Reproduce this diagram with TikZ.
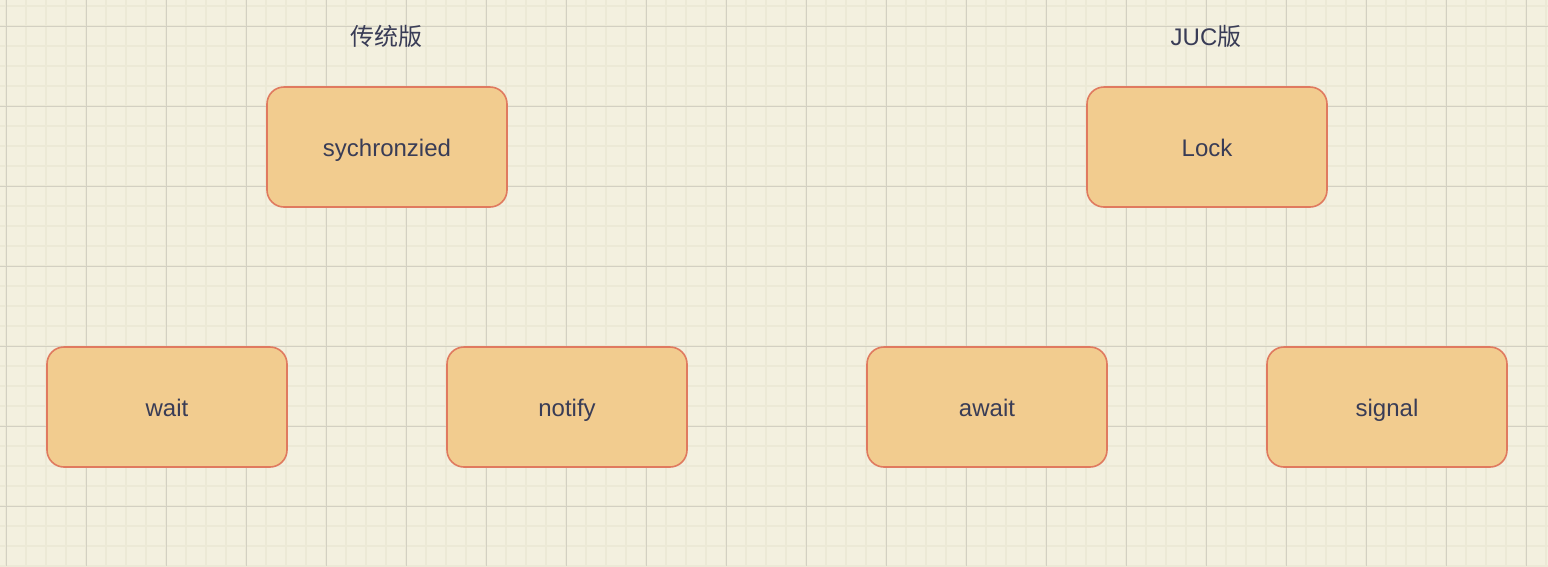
\documentclass[tikz,border=0pt]{standalone}
\usepackage{fontspec}
\setmainfont{Liberation Sans}
\newfontfamily\cjk{Noto Sans CJK SC}
\definecolor{bgc}{HTML}{F3F0DF}
\definecolor{minorc}{HTML}{ECE9D6}
\definecolor{majorc}{HTML}{D3D0C2}
\definecolor{boxfill}{HTML}{F2CC8F}
\definecolor{boxline}{HTML}{E07A5F}
\definecolor{txt}{HTML}{393C56}
\begin{document}
\begin{tikzpicture}[x=1pt,y=-1pt,
  box/.style={draw=boxline,fill=boxfill,line width=1.6pt,rounded corners=17pt,
    minimum width=240pt,minimum height=120pt,inner sep=0pt,text=txt,
    text height=18pt,text depth=0pt,
    font=\fontsize{24}{28}\selectfont},
  title/.style={text=txt,inner sep=0pt,anchor=base,font=\fontsize{24}{28}\selectfont}]
\fill[bgc] (0,0) rectangle (1548,566);
\useasboundingbox (0,0) rectangle (1548,566);
\foreach \x in {6,26,...,1546} \draw[minorc,line width=1.6pt] (\x,0) -- (\x,566);
\foreach \y in {6,26,...,566} \draw[minorc,line width=1.6pt] (0,\y) -- (1548,\y);
\foreach \x in {6,86,...,1546} \draw[majorc,line width=0.9pt] (\x,0) -- (\x,566);
\foreach \y in {26,106,...,566} \draw[majorc,line width=0.9pt] (0,\y) -- (1548,\y);
\node[title] (t1) at (386,45) {\cjk 传统版};
\node[title] (t2) at (1206,45) {JUC{\cjk 版}};
\node[box] (sync) at (387,147) {sychronzied};
\node[box] (lock) at (1207,147) {Lock};
\node[box] (wait) at (167,407) {wait};
\node[box] (notify) at (567,407) {notify};
\node[box] (await) at (987,407) {await};
\node[box] (signal) at (1387,407) {signal};
\end{tikzpicture}
\end{document}
